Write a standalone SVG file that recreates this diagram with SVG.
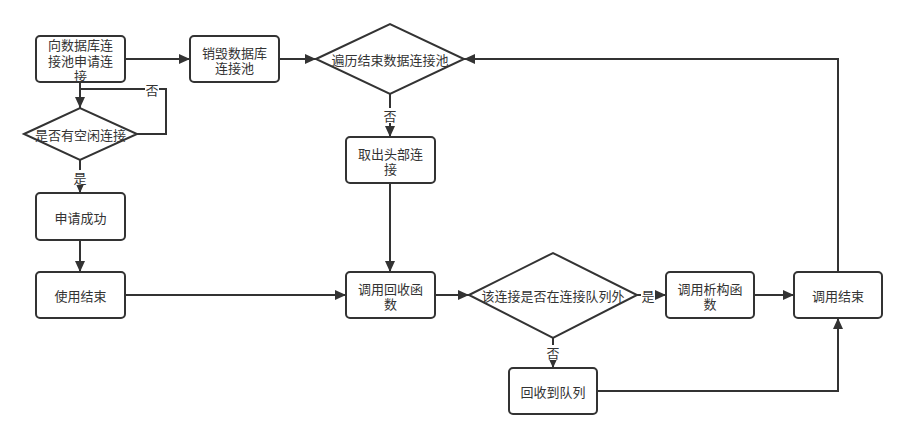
<svg xmlns="http://www.w3.org/2000/svg" width="907" height="439" viewBox="0 0 907 439">
<style>
.box{fill:#fff;stroke:#333;stroke-width:2}
.dia{fill:#fff;stroke:#333;stroke-width:2}
.t{font-family:"Noto Sans CJK SC","Liberation Sans",sans-serif;font-size:13px;fill:#333;text-anchor:middle;dominant-baseline:central}
.e{fill:none;stroke:#333;stroke-width:2}
.lb{fill:#fff}
</style>
<defs>
<marker id="ah" markerUnits="userSpaceOnUse" markerWidth="12" markerHeight="10" refX="11" refY="5" orient="auto">
<path d="M0,0 L11,5 L0,10 Z" fill="#333"/>
</marker>
</defs>
<rect width="907" height="439" fill="#fff"/>
<g id="edges">
<path class="e" d="M80,82 V108" marker-end="url(#ah)"/>
<path class="e" d="M137,134 H166 V89 H80"/>
<path class="e" d="M80,160 V193" marker-end="url(#ah)"/>
<path class="e" d="M80,240 V272" marker-end="url(#ah)"/>
<path class="e" d="M125,59 H190" marker-end="url(#ah)"/>
<path class="e" d="M279,59 H316" marker-end="url(#ah)"/>
<path class="e" d="M390,94 V137" marker-end="url(#ah)"/>
<path class="e" d="M390,183 V272" marker-end="url(#ah)"/>
<path class="e" d="M125,295 H346" marker-end="url(#ah)"/>
<path class="e" d="M435,295 H469" marker-end="url(#ah)"/>
<path class="e" d="M637,295 H666" marker-end="url(#ah)"/>
<path class="e" d="M754,295 H794" marker-end="url(#ah)"/>
<path class="e" d="M553,338 V368" marker-end="url(#ah)"/>
<path class="e" d="M597,391 H838 V318" marker-end="url(#ah)"/>
<path class="e" d="M838,272 V59 H464" marker-end="url(#ah)"/>
<rect class="lb" x="145" y="82" width="14" height="15"/>
<text class="t" x="152" y="89">否</text>
<rect class="lb" x="73" y="170" width="14" height="15"/>
<text class="t" x="80" y="177">是</text>
<rect class="lb" x="383" y="108" width="14" height="15"/>
<text class="t" x="390" y="115">否</text>
<rect class="lb" x="641" y="288" width="14" height="15"/>
<text class="t" x="648" y="295">是</text>
<rect class="lb" x="546" y="345" width="14" height="15"/>
<text class="t" x="553" y="352">否</text>
</g>
<g id="n1"><rect class="box" x="36" y="36" width="89" height="46" rx="4"/>
<text class="t" x="80.5" y="44">向数据库连<tspan x="80.5" dy="15.5">接池申请连</tspan><tspan x="80.5" dy="15.5">接</tspan></text></g>
<g id="n2"><polygon class="dia" points="24,134 80,108 137,134 80,160"/>
<text class="t" x="80.5" y="134">是否有空闲连接</text></g>
<g id="n3"><rect class="box" x="36" y="193" width="89" height="47" rx="4"/>
<text class="t" x="80.5" y="217">申请成功</text></g>
<g id="n4"><rect class="box" x="36" y="272" width="89" height="46" rx="4"/>
<text class="t" x="80.5" y="295">使用结束</text></g>
<g id="n5"><rect class="box" x="190" y="36" width="89" height="46" rx="4"/>
<text class="t" x="234.5" y="52">销毁数据库<tspan x="234.5" dy="15">连接池</tspan></text></g>
<g id="n6"><polygon class="dia" points="316,59 390,24 464,59 390,94"/>
<text class="t" x="390" y="59">遍历结束数据连接池</text></g>
<g id="n7"><rect class="box" x="346" y="137" width="89" height="46" rx="4"/>
<text class="t" x="390.5" y="153">取出头部连<tspan x="390.5" dy="15">接</tspan></text></g>
<g id="n8"><rect class="box" x="346" y="272" width="89" height="46" rx="4"/>
<text class="t" x="390.5" y="288">调用回收函<tspan x="390.5" dy="15">数</tspan></text></g>
<g id="n9"><polygon class="dia" points="469,295 553,253 637,295 553,338"/>
<text class="t" x="553" y="295">该连接是否在连接队列外</text></g>
<g id="n10"><rect class="box" x="666" y="272" width="88" height="46" rx="4"/>
<text class="t" x="710" y="288">调用析构函<tspan x="710" dy="15">数</tspan></text></g>
<g id="n11"><rect class="box" x="794" y="272" width="88" height="46" rx="4"/>
<text class="t" x="838" y="295">调用结束</text></g>
<g id="n12"><rect class="box" x="509" y="368" width="88" height="46" rx="4"/>
<text class="t" x="553" y="391">回收到队列</text></g>
</svg>
